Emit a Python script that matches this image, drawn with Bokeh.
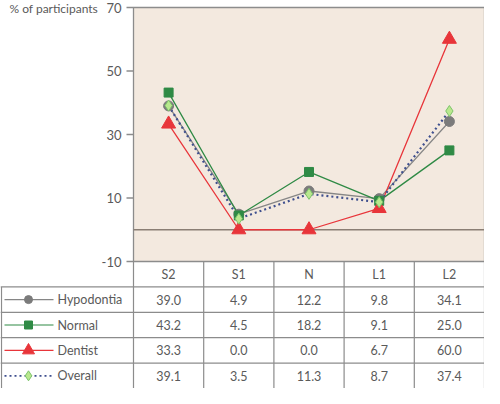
from bokeh.plotting import figure
from bokeh.models import Range1d, ColumnDataSource
from bokeh.embed import file_html
from bokeh.resources import INLINE
from bokeh.core.properties import value

categories = ["S2", "S1", "N", "L1", "L2"]
series_names = ["Hypodontia", "Normal", "Dentist", "Overall"]
hypodontia = [39.0, 4.9, 12.2, 9.8, 34.1]
normal = [43.2, 4.5, 18.2, 9.1, 25.0]
dentist = [33.3, 0.0, 0.0, 6.7, 60.0]
overall = [39.1, 3.5, 11.3, 8.7, 37.4]
y_ticks = [-10, 10, 30, 50, 70]
y_label = "% of participants"

FONT = "Lato"
FS = "12.5px"
TXT = "#5a5a5a"
GRID = "#8c8c8c"
BG = "#f3e9df"

# layout in pixels
W, H = 484, 388
LEFT = 133          # width of the left label column
CH_TOP, CH_BOT = 7, 261   # chart area top/bottom (pixels from canvas top)
n = len(categories)
rows = len(series_names)
COL_W = (W - LEFT) / n
ROW_H = (H - CH_BOT) / (rows + 1)

y_min, y_max = min(y_ticks), max(y_ticks)
ppu = (CH_BOT - CH_TOP) / (y_max - y_min)      # pixels per chart unit
x_left = -LEFT / COL_W

p = figure(width=W, height=H, output_backend="svg", toolbar_location=None,
           x_axis_type=None, y_axis_type=None,
           x_range=Range1d(x_left, n),
           y_range=Range1d(y_min - (H - CH_BOT) / ppu, y_max + CH_TOP / ppu),
           min_border=0, min_border_left=0, min_border_right=0, min_border_top=0, min_border_bottom=0)
p.extra_y_ranges = {"table": Range1d(rows + 1, -CH_BOT / ROW_H)}
p.outline_line_color = None
p.grid.visible = False
p.background_fill_color = "white"
p.border_fill_color = "white"

def dx(pixels):
    return pixels / COL_W

# ---------- chart ----------
p.quad(left=[0], right=[n], bottom=[y_min], top=[y_max], fill_color=BG,
       line_color=GRID, line_width=1.3)
p.segment(x0=[0], y0=[0], x1=[n], y1=[0], line_color="#8a7e74", line_width=1.5)

# y ticks and labels
p.segment(x0=[dx(-7)] * len(y_ticks), y0=y_ticks, x1=[0] * len(y_ticks), y1=y_ticks,
          line_color=GRID, line_width=1.3)
p.text(x=[dx(-12)] * len(y_ticks), y=y_ticks, text=[str(v) for v in y_ticks],
       text_font=value(FONT), text_font_size="13px", text_color=TXT,
       text_align="right", text_baseline="middle")
p.text(x=[x_left + dx(9)], y=[y_max - 0.3], text=[y_label], text_font=value(FONT),
       text_font_size="12px", text_color=TXT, text_align="left", text_baseline="middle")

styles = {
    "Hypodontia": dict(color="#868686", marker="circle", size=10, fill="#7b7b7b", mline="#7b7b7b",
                       dash="solid", lw=1.3, lsize=8),
    "Normal": dict(color="#2f8a45", marker="square", size=9, fill="#2f8a45", mline="#2f8a45",
                   dash="solid", lw=1.3, lsize=8),
    "Dentist": dict(color="#e8353a", marker="triangle", size=14, fill="#e8353a", mline="#e8353a",
                    dash="solid", lw=1.3, lsize=12),
    "Overall": dict(color="#3e4f8e", marker="diamond", size=11, fill="#b9e88e", mline="#7cc46a",
                    dash="2 3", lw=2.2, lsize=10),
}
values = {"Hypodontia": hypodontia, "Normal": normal, "Dentist": dentist, "Overall": overall}
xc = [i + 0.5 for i in range(n)]

for name in series_names:
    s = styles[name]
    src = ColumnDataSource(dict(x=xc, y=values[name]))
    p.line("x", "y", source=src, line_color=s["color"], line_width=s["lw"], line_dash=s["dash"])
for name in series_names:
    s = styles[name]
    src = ColumnDataSource(dict(x=xc, y=values[name]))
    p.scatter("x", "y", source=src, marker=s["marker"], size=s["size"],
              fill_color=s["fill"], line_color=s["mline"], line_width=1)

# ---------- table ----------
T = "table"
p.segment(x0=[x_left] * rows, y0=list(range(1, rows + 1)), x1=[n] * rows, y1=list(range(1, rows + 1)),
          line_color=GRID, line_width=1.2, y_range_name=T)
p.segment(x0=list(range(n + 1)), y0=[0] * (n + 1), x1=list(range(n + 1)), y1=[rows + 1] * (n + 1),
          line_color=GRID, line_width=1.2, y_range_name=T)
p.segment(x0=[x_left + dx(1)], y0=[1], x1=[x_left + dx(1)], y1=[rows + 1],
          line_color=GRID, line_width=1.2, y_range_name=T)

p.text(x=xc, y=[0.5] * n, text=categories, text_font=value(FONT), text_font_size=FS,
       text_color=TXT, text_align="center", text_baseline="middle", y_range_name=T)

for r, name in enumerate(series_names):
    yy = r + 1.5
    s = styles[name]
    p.text(x=xc, y=[yy] * n, text=[f"{v:.1f}" for v in values[name]],
           text_font=value(FONT), text_font_size=FS, text_color=TXT,
           text_align="center", text_baseline="middle", y_range_name=T)
    p.line(x=[x_left + dx(4), x_left + dx(53)], y=[yy, yy], line_color=s["color"],
           line_width=1.2 if name != "Overall" else 1.8, line_dash=s["dash"], y_range_name=T)
    p.scatter(x=[x_left + dx(28)], y=[yy], marker=s["marker"], size=s["lsize"],
              fill_color=s["fill"], line_color=s["mline"], line_width=1, y_range_name=T)
    p.text(x=[x_left + dx(57)], y=[yy], text=[name], text_font=value(FONT), text_font_size=FS,
           text_color=TXT, text_align="left", text_baseline="middle", y_range_name=T)

open("out.html", "w").write(file_html(p, INLINE))
